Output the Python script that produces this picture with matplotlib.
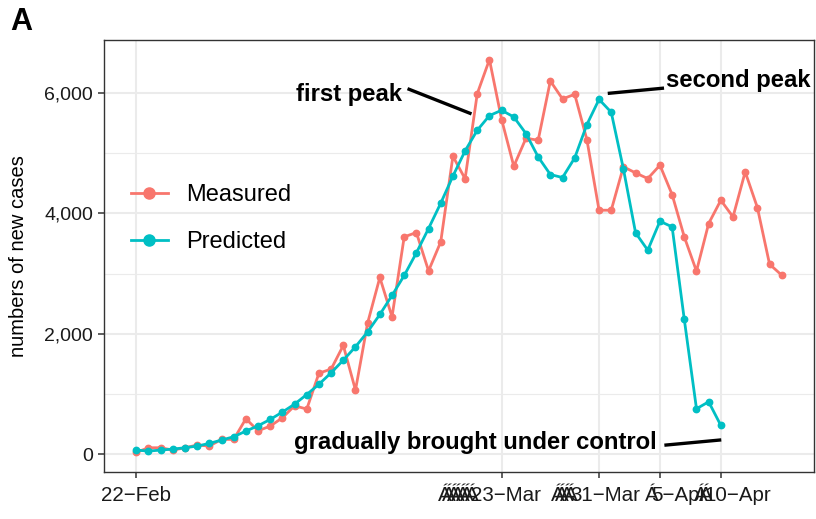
import numpy as np
import matplotlib
matplotlib.use("Agg")
import matplotlib.pyplot as plt
import matplotlib.dates as mdates
import matplotlib.transforms as mtransforms
from matplotlib.lines import Line2D
from matplotlib.ticker import FuncFormatter, FixedLocator

plt.rcParams['font.family'] = ['Liberation Sans', 'DejaVu Sans']

# daily new cases, starting 22-Feb
start_date = np.datetime64("2020-02-22")
measured = [28, 105, 105, 66, 105, 150, 133, 244, 244, 587,
            387, 465, 603, 803, 748, 1345, 1412, 1805, 1063, 2181,
            2935, 2281, 3610, 3682, 3045, 3527, 4950, 4575, 5991, 6556,
            5560, 4784, 5249, 5216, 6201, 5902, 5980, 5227, 4053, 4053,
            4775, 4673, 4579, 4801, 4313, 3610, 3040, 3832, 4219, 3942,
            4690, 4098, 3156, 2973]
predicted = [66, 50, 66, 83, 105, 133, 177, 233, 288, 382,
             470, 576, 698, 830, 990, 1160, 1351, 1561, 1783, 2032,
             2320, 2636, 2968, 3344, 3749, 4170, 4620, 5039, 5382, 5626,
             5714, 5603, 5327, 4939, 4646, 4596, 4922, 5476, 5895, 5681,
             4740, 3677, 3389, 3870, 3776, 2237, 753, 869, 476]

tick_dates = ["2020-02-22", "2020-03-23", "2020-03-31", "2020-04-05", "2020-04-10"]
tick_labels = ["22\u2212Feb", "23\u2212Mar", "31\u2212Mar", "5\u2212Apr", "10\u2212Apr"]
tick_shift_px = [0, 4, 6, 19, 17]
garble_counts = [0, 7, 4, 1, 2]

col_meas = "#F8766D"
col_pred = "#00BFC4"

d_meas = mdates.date2num(start_date + np.arange(len(measured)))
d_pred = mdates.date2num(start_date + np.arange(len(predicted)))
d0 = mdates.date2num(start_date)

fig = plt.figure(figsize=(8.16, 5.19), dpi=100)
ax = fig.add_axes([104 / 816, 47 / 519, 710 / 816, 432 / 519])

ax.plot(d_meas, measured, color=col_meas, lw=2.0, marker="o", ms=4.6, zorder=3)
ax.plot(d_pred, predicted, color=col_pred, lw=2.0, marker="o", ms=4.6, zorder=3)

ax.set_xlim(d0 - 2.65, d0 + 55.65)
ax.set_ylim(-298, 6882)

ax.xaxis.set_major_locator(FixedLocator(mdates.date2num(np.array(tick_dates, dtype="datetime64[D]"))))
ax.set_xticklabels(tick_labels)
ax.set_yticks([0, 2000, 4000, 6000])
ax.set_yticks([1000, 3000, 5000], minor=True)
ax.yaxis.set_major_formatter(FuncFormatter(lambda v, p: f"{int(v):,}"))

ax.grid(True, which="major", color="#EBEBEB", lw=1.5, zorder=0)
ax.grid(True, which="minor", axis="y", color="#EBEBEB", lw=0.8, zorder=0)
ax.set_axisbelow(True)
for s in ax.spines.values():
    s.set_color("#333333")
    s.set_linewidth(1.0)
ax.tick_params(axis="both", which="major", length=4, width=1.1, color="#333333",
               labelsize=14, labelcolor="#1A1A1A", pad=4)
ax.tick_params(axis="x", which="major", labelsize=14.8, pad=6)
ax.tick_params(axis="y", which="minor", length=0)
ax.set_ylabel("numbers of new cases", fontsize=14.5)
ax.yaxis.set_label_coords(-0.107, 0.5)

for lab, dx in zip(ax.get_xticklabels(), tick_shift_px):
    lab.set_transform(lab.get_transform() + mtransforms.ScaledTranslation(dx / 100, 0, fig.dpi_scale_trans))

handles = [Line2D([], [], color=col_meas, lw=2.0, marker="o", ms=8),
           Line2D([], [], color=col_pred, lw=2.0, marker="o", ms=8)]
ax.legend(handles, ["Measured", "Predicted"], loc="center left", bbox_to_anchor=(0.038, 0.587),
          frameon=False, fontsize=17, borderaxespad=0, borderpad=0, handlelength=1.55,
          handletextpad=0.8, labelspacing=1.05)

# annotations
ann_kw = dict(fontsize=17.2, fontweight="bold", color="black", va="center")
ax.text(d0 + 21.8, 5980, "first peak", ha="right", **ann_kw)
ax.plot([d0 + 22.4, d0 + 27.4], [6063, 5664], color="black", lw=2.4)
ax.text(d0 + 43.5, 6213, "second peak", ha="left", **ann_kw)
ax.plot([d0 + 38.85, d0 + 43.2], [5997, 6080], color="black", lw=2.4)
ax.text(d0 + 42.7, 199, "gradually brought under control", ha="right", **ann_kw)
ax.plot([d0 + 43.5, d0 + 47.9], [150, 233], color="black", lw=2.4)

fig.text(10 / 816, 1 - 22 / 519, "A", fontsize=22, fontweight="bold", va="center", ha="left")

# overlapping stray glyphs in front of the date labels
fig.canvas.draw()
renderer = fig.canvas.get_renderer()
for lab, n in zip(ax.get_xticklabels(), garble_counts):
    bb = lab.get_window_extent(renderer)
    for k in range(n):
        x = bb.x0 - 6 - (n - 1 - k) * 4.5
        fig.text(x, bb.y0, "\u00c1", transform=None, fontsize=14.8, color="#1A1A1A",
                 ha="left", va="bottom")

fig.savefig("out.png", dpi=100)
